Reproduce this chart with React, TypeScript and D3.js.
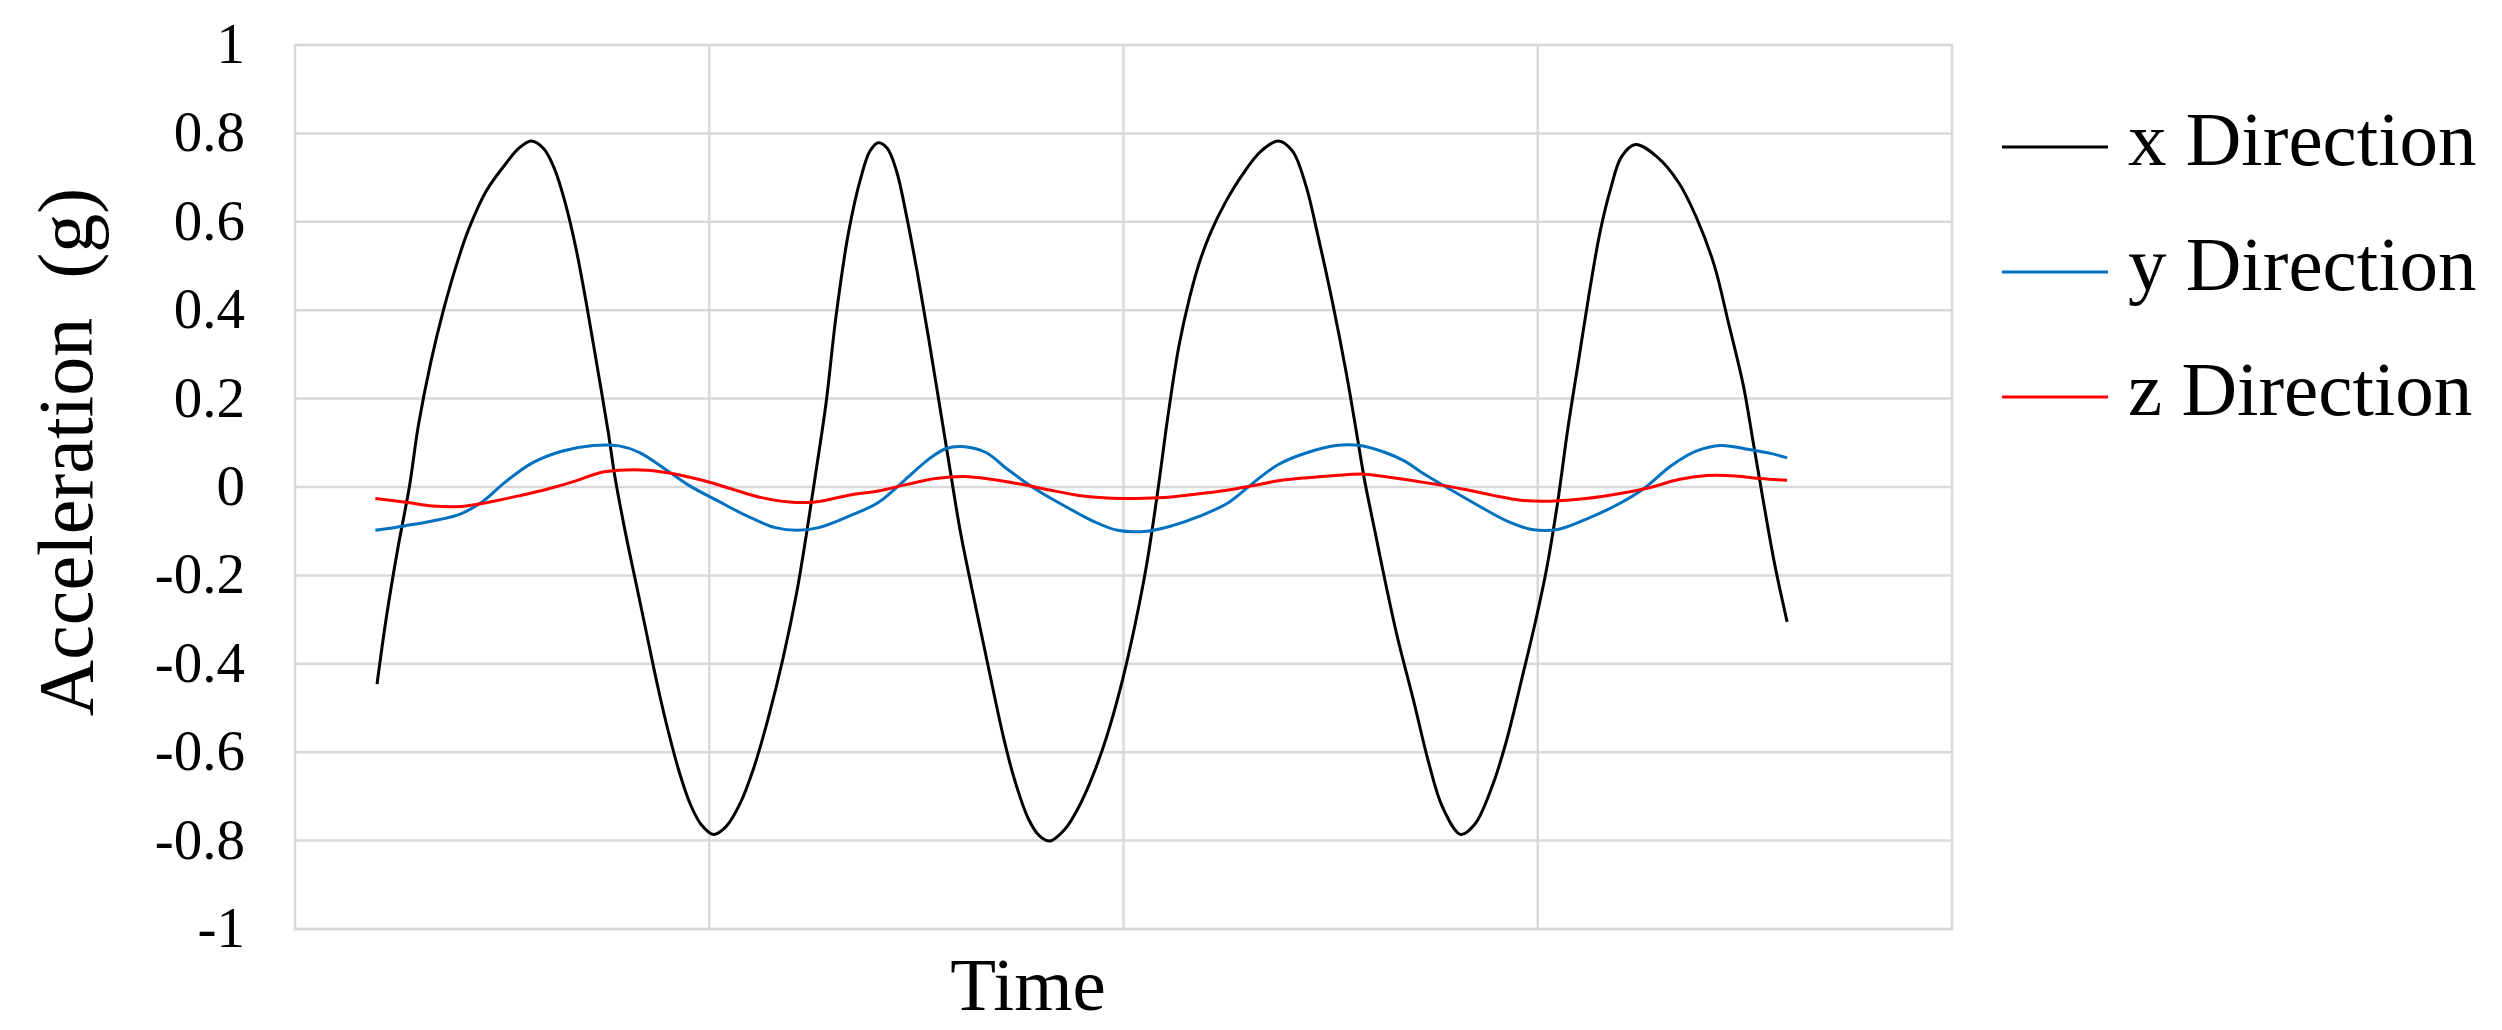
import React from 'react';
import * as d3 from 'd3';

type Pt = [number, number];

// time (arbitrary units, axis spans 0..20) , acceleration (g)
const xDirection: Pt[] = [
  [0.99, -0.446], [1.10, -0.298], [1.24, -0.140], [1.38, 0.0], [1.49, 0.140], [1.64, 0.283],
  [1.79, 0.399], [1.97, 0.515], [2.10, 0.585], [2.31, 0.670], [2.53, 0.728], [2.70, 0.766],
  [2.85, 0.783], [3.00, 0.766], [3.13, 0.721], [3.26, 0.644], [3.39, 0.541], [3.52, 0.412],
  [3.65, 0.270], [3.78, 0.125], [3.86, 0.025], [3.99, -0.105], [4.12, -0.221], [4.25, -0.337],
  [4.38, -0.453], [4.51, -0.556], [4.64, -0.646], [4.77, -0.717], [4.90, -0.763], [5.05, -0.786],
  [5.20, -0.769], [5.37, -0.717], [5.54, -0.634], [5.72, -0.517], [5.89, -0.388], [6.06, -0.234],
  [6.17, -0.110], [6.28, 0.025], [6.41, 0.190], [6.53, 0.386], [6.68, 0.575], [6.83, 0.700],
  [6.94, 0.760], [7.04, 0.779], [7.15, 0.766], [7.26, 0.715], [7.39, 0.605], [7.52, 0.476],
  [7.65, 0.334], [7.78, 0.185], [7.91, 0.035], [8.03, -0.100], [8.16, -0.221], [8.29, -0.337],
  [8.42, -0.453], [8.55, -0.565], [8.68, -0.659], [8.85, -0.750], [8.98, -0.788], [9.11, -0.801],
  [9.29, -0.775], [9.46, -0.724], [9.63, -0.653], [9.80, -0.563], [9.97, -0.450], [10.14, -0.311],
  [10.28, -0.175], [10.41, -0.014], [10.54, 0.165], [10.67, 0.320], [10.80, 0.430], [10.92, 0.510],
  [11.05, 0.575], [11.23, 0.644], [11.44, 0.708], [11.66, 0.760], [11.87, 0.783], [12.04, 0.760],
  [12.20, 0.683], [12.35, 0.566], [12.52, 0.420], [12.69, 0.257], [12.82, 0.115], [12.91, 0.015],
  [13.04, -0.105], [13.16, -0.215], [13.30, -0.335], [13.51, -0.490], [13.68, -0.621], [13.85, -0.724],
  [14.07, -0.786], [14.24, -0.763], [14.46, -0.672], [14.63, -0.569], [14.80, -0.440], [14.98, -0.298],
  [15.11, -0.182], [15.24, -0.035], [15.36, 0.128], [15.49, 0.283], [15.62, 0.437], [15.75, 0.575],
  [15.88, 0.675], [16.01, 0.747], [16.18, 0.775], [16.44, 0.747], [16.70, 0.689], [16.91, 0.612],
  [17.13, 0.502], [17.30, 0.373], [17.48, 0.231], [17.60, 0.102], [17.73, -0.040], [17.86, -0.175],
  [18.01, -0.305],
];

const yDirection: Pt[] = [
  [0.97, -0.098], [1.32, -0.088], [1.66, -0.077], [2.01, -0.060], [2.27, -0.032], [2.53, 0.010],
  [2.87, 0.055], [3.22, 0.081], [3.60, 0.094], [3.91, 0.093], [4.16, 0.078], [4.47, 0.040],
  [4.77, 0.002], [5.11, -0.032], [5.46, -0.066], [5.80, -0.092], [6.06, -0.098], [6.32, -0.092],
  [6.70, -0.065], [7.04, -0.035], [7.35, 0.014], [7.65, 0.063], [7.86, 0.087], [8.08, 0.091],
  [8.34, 0.078], [8.60, 0.040], [8.94, -0.005], [9.29, -0.043], [9.63, -0.077], [9.93, -0.098],
  [10.28, -0.100], [10.58, -0.088], [10.92, -0.066], [11.27, -0.035], [11.57, 0.010], [11.87, 0.051],
  [12.22, 0.078], [12.56, 0.094], [12.86, 0.094], [13.16, 0.078], [13.40, 0.058], [13.60, 0.033],
  [13.94, -0.005], [14.29, -0.043], [14.63, -0.077], [14.93, -0.096], [15.24, -0.096], [15.58, -0.073],
  [15.93, -0.043], [16.27, -0.005], [16.61, 0.048], [16.91, 0.081], [17.21, 0.094], [17.55, 0.085],
  [17.81, 0.076], [18.01, 0.066],
];

const zDirection: Pt[] = [
  [0.97, -0.026], [1.36, -0.035], [1.66, -0.043], [2.01, -0.044], [2.35, -0.034], [2.70, -0.020],
  [3.04, -0.005], [3.39, 0.014], [3.69, 0.033], [3.91, 0.038], [4.25, 0.038], [4.60, 0.029],
  [4.94, 0.014], [5.28, -0.005], [5.63, -0.024], [5.97, -0.034], [6.28, -0.034], [6.70, -0.018],
  [7.04, -0.009], [7.39, 0.006], [7.73, 0.019], [8.08, 0.024], [8.42, 0.017], [8.77, 0.006],
  [9.11, -0.007], [9.46, -0.019], [9.80, -0.025], [10.15, -0.026], [10.49, -0.024], [10.84, -0.017],
  [11.18, -0.009], [11.53, 0.002], [11.87, 0.014], [12.22, 0.021], [12.56, 0.026], [12.91, 0.029],
  [13.25, 0.021], [13.77, 0.006], [14.11, -0.005], [14.46, -0.019], [14.80, -0.030], [15.15, -0.032],
  [15.58, -0.026], [16.01, -0.014], [16.36, -0.001], [16.70, 0.017], [17.04, 0.026], [17.39, 0.025],
  [17.69, 0.019], [18.01, 0.015],
];

const yTicks: number[] = [1, 0.8, 0.6, 0.4, 0.2, 0, -0.2, -0.4, -0.6, -0.8, -1];
const timeGrid: number[] = [5, 10, 15];
const seriesNames: string[] = ['x Direction', 'y Direction', 'z Direction'];
const seriesColors: string[] = ['#000000', '#0070C0', '#FF0000'];
const seriesData: Pt[][] = [xDirection, yDirection, zDirection];
const yAxisTitle = 'Acceleration\u00A0\u00A0(g)';
const xAxisTitle = 'Time';

const FONT = "'Liberation Serif', 'Times New Roman', Times, serif";

export default function App() {
  const W = 2502;
  const H = 1030;
  const plot = { left: 295, right: 1952, top: 45, bottom: 929 };
  const x = d3.scaleLinear().domain([0, 20]).range([plot.left, plot.right]);
  const y = d3.scaleLinear().domain([-1, 1]).range([plot.bottom, plot.top]);
  const line = d3
    .line<Pt>()
    .x((d) => x(d[0]))
    .y((d) => y(d[1]))
    .curve(d3.curveCatmullRom.alpha(0.5));

  const grid = '#d9d9d9';

  return (
    <svg
      width={W}
      height={H}
      viewBox={`0 0 ${W} ${H}`}
      style={{ position: 'absolute', left: 0, top: 0, background: '#fff', display: 'block' }}
    >
      <rect x={0} y={0} width={W} height={H} fill="#fff" />
      {yTicks.map((t) => (
        <line key={`h${t}`} x1={plot.left} x2={plot.right} y1={y(t)} y2={y(t)} stroke={grid} strokeWidth={2.5} />
      ))}
      {timeGrid.map((t) => (
        <line key={`v${t}`} x1={x(t)} x2={x(t)} y1={plot.top} y2={plot.bottom} stroke={grid} strokeWidth={2.5} />
      ))}
      <rect
        x={plot.left}
        y={plot.top}
        width={plot.right - plot.left}
        height={plot.bottom - plot.top}
        fill="none"
        stroke={grid}
        strokeWidth={2.5}
      />
      {yTicks.map((t) => (
        <text
          key={`l${t}`}
          x={245}
          y={y(t) + 18}
          textAnchor="end"
          fontFamily={FONT}
          fontSize={57}
          fill="#000"
        >
          {String(t)}
        </text>
      ))}
      {seriesData.map((d, i) => (
        <path
          key={seriesNames[i]}
          d={line(d) || ''}
          fill="none"
          stroke={seriesColors[i]}
          strokeWidth={3}
          strokeLinejoin="round"
          strokeLinecap="butt"
        />
      ))}
      <text
        transform={`translate(92, 452) rotate(-90)`}
        textAnchor="middle"
        fontFamily={FONT}
        fontSize={78}
        fill="#000"
      >
        {yAxisTitle}
      </text>
      <text x={1028} y={1010} textAnchor="middle" fontFamily={FONT} fontSize={75} fill="#000">
        {xAxisTitle}
      </text>
      {seriesNames.map((name, i) => {
        const ly = 147 + i * 125;
        return (
          <g key={`leg${name}`}>
            <line x1={2002} x2={2108} y1={ly} y2={ly} stroke={seriesColors[i]} strokeWidth={3} />
            <text x={2128} y={ly + 18} fontFamily={FONT} fontSize={77} fill="#000">
              {name}
            </text>
          </g>
        );
      })}
    </svg>
  );
}
